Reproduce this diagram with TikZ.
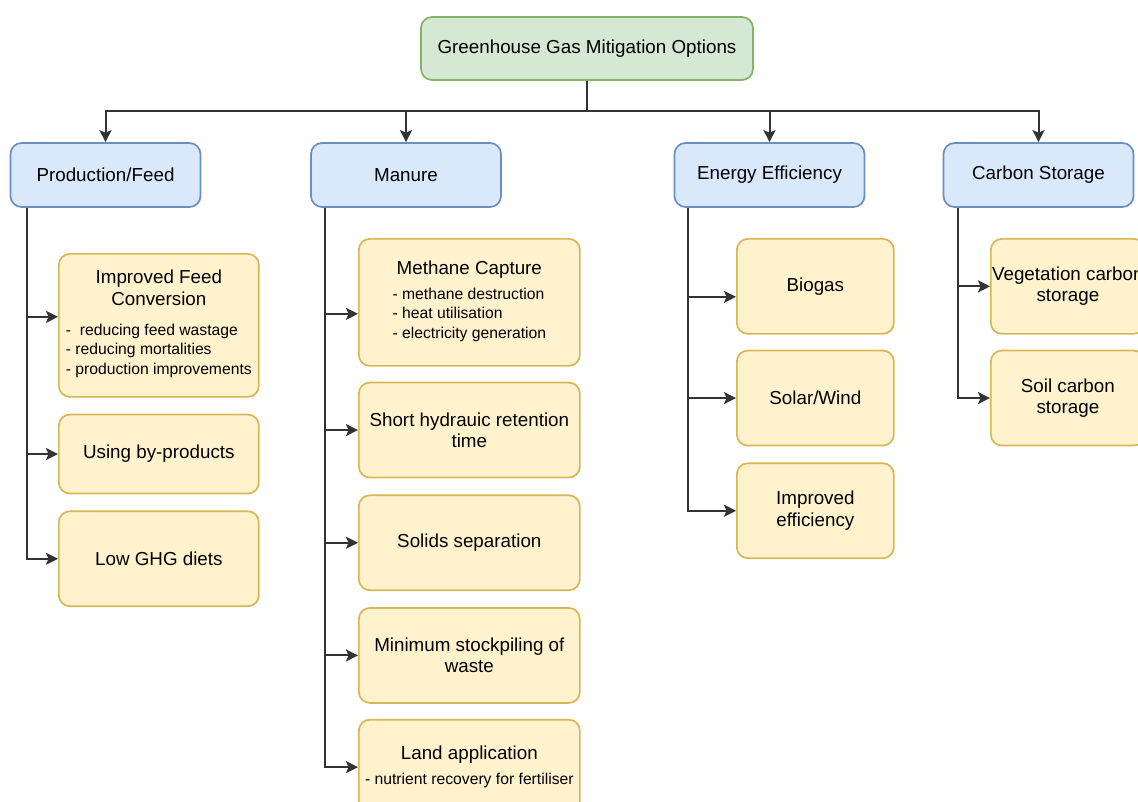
\documentclass[tikz,border=0pt]{standalone}
\usepackage{fontspec}
\setmainfont{Liberation Sans}
\usetikzlibrary{positioning,arrows.meta}
\definecolor{rootfill}{HTML}{D5E8D4}
\definecolor{rootline}{HTML}{82B366}
\definecolor{catfill}{HTML}{DAE8FC}
\definecolor{catline}{HTML}{6C8EBF}
\definecolor{leaffill}{HTML}{FFF2CC}
\definecolor{leafline}{HTML}{D6B656}
\definecolor{wire}{HTML}{333333}
\newcommand{\listfont}{\fontsize{15.7}{19.5}\selectfont}

\begin{document}
\begin{tikzpicture}[x=1pt, y=-1pt,
	font=\fontsize{18.8}{21.5}\selectfont,
	box/.style={rectangle, rounded corners=11pt, line width=1.7pt, inner sep=0pt, align=center},
	root/.style={box, draw=rootline, fill=rootfill, minimum width=332pt, minimum height=63pt},
	cat/.style={box, draw=catline, fill=catfill, minimum width=190pt, minimum height=64pt},
	leaf/.style={box, draw=leafline, fill=leaffill, minimum height=95pt},
	fcol/.style={leaf, minimum width=200pt},
	mcol/.style={leaf, minimum width=221pt},
	ecol/.style={leaf, minimum width=157pt},
	ccol/.style={leaf, minimum width=154pt},
	arr/.style={-{Stealth[length=12pt, width=12pt, inset=2.5pt]}, line width=2pt, draw=wire}]
	\useasboundingbox (0,0) rectangle (1138,801);
	\clip (0,0) rectangle (1138,801);
	\node[root] (ghg) at (587,48.5) {Greenhouse Gas Mitigation Options};
	\node[cat] (feed) at (105.5,175) {Production/Feed};
	\node[cat] (man) at (406,175) {Manure};
	\node[cat] (en) at (769.5,175) {Energy Efficiency};
	\node[cat] (cs) at (1038.5,175) {Carbon Storage};
	\coordinate (bus) at (587,111);
	\draw[arr] (ghg.south) -- (bus) -| (feed.north);
	\draw[arr] (ghg.south) -- (bus) -| (man.north);
	\draw[arr] (ghg.south) -- (bus) -| (en.north);
	\draw[arr] (ghg.south) -- (bus) -| (cs.north);
	\node[fcol, minimum height=143pt, anchor=north west] (f1) at (58,253) {Improved Feed\\Conversion\\[8.5pt]{\listfont\begin{tabular}[t]{@{}l@{}}-\ \ reducing feed wastage\\- reducing mortalities\\- production improvements\end{tabular}}};
	\node[fcol, minimum height=79pt, below=16pt of f1] (f2) {Using by-products};
	\node[fcol, below=16pt of f2] (f3) {Low GHG diets};
	\node[mcol, minimum height=127pt, anchor=north west] (m1) at (358,238) {Methane Capture\\[3.5pt]{\listfont\begin{tabular}[t]{@{}l@{}}- methane destruction\\- heat utilisation\\- electricity generation\end{tabular}}};
	\node[mcol, below=15pt of m1] (m2) {Short hydrauic retention\\time};
	\node[mcol, below=16pt of m2] (m3) {Solids separation};
	\node[mcol, below=16pt of m3] (m4) {Minimum stockpiling of\\waste};
	\node[mcol, below=15pt of m4] (m5) {Land application\\[3.5pt]{\listfont - nutrient recovery for fertiliser}};
	\node[ecol, anchor=north west] (e1) at (736,238) {Biogas};
	\node[ecol, below=15pt of e1] (e2) {Solar/Wind};
	\node[ecol, below=16pt of e2] (e3) {Improved\\efficiency};
	\node[ccol, anchor=north west] (c1) at (990,238) {Vegetation carbon\\storage};
	\node[ccol, below=15pt of c1] (c2) {Soil carbon\\storage};
	\draw[arr] ([xshift=17pt]feed.south west) |- ([yshift=8.5pt]f1.west);
	\draw[arr] ([xshift=17pt]feed.south west) |- (f2.west);
	\draw[arr] ([xshift=17pt]feed.south west) |- (f3.west);
	\draw[arr] ([xshift=15pt]man.south west) |- ([yshift=-11.5pt]m1.west);
	\draw[arr] ([xshift=15pt]man.south west) |- (m2.west);
	\draw[arr] ([xshift=15pt]man.south west) |- (m3.west);
	\draw[arr] ([xshift=15pt]man.south west) |- (m4.west);
	\draw[arr] ([xshift=15pt]man.south west) |- (m5.west);
	\draw[arr] ([xshift=14pt]en.south west) |- ([yshift=-10.5pt]e1.west);
	\draw[arr] ([xshift=14pt]en.south west) |- (e2.west);
	\draw[arr] ([xshift=14pt]en.south west) |- (e3.west);
	\draw[arr] ([xshift=15pt]cs.south west) |- (c1.west);
	\draw[arr] ([xshift=15pt]cs.south west) |- (c2.west);
\end{tikzpicture}
\end{document}
